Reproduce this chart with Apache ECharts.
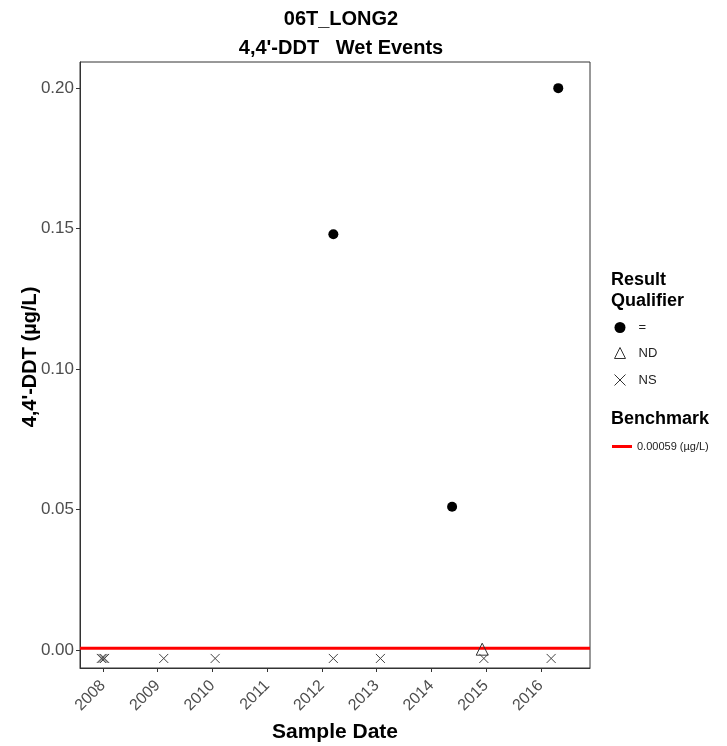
<!DOCTYPE html>
<html><head><meta charset="utf-8">
<script src="https://cdn.jsdelivr.net/npm/echarts@6/dist/echarts.min.js"></script>
<style>html,body{margin:0;padding:0;background:#fff}#c{width:727px;height:746px}</style>
</head><body><div id="c"></div>
<script>
// Data (decimal years)
const yearTicks = [2008, 2009, 2010, 2011, 2012, 2013, 2014, 2015, 2016];
const yTicks = [0, 0.05, 0.10, 0.15, 0.20];
const eqDates = [2012.21, 2014.38, 2016.32];
const eqValues = [0.148, 0.051, 0.200];
const ndDates = [2014.93];
const ndValues = [0.0003];
const nsDates = [2007.97, 2008.0, 2008.03, 2009.11, 2010.05, 2012.21, 2013.07, 2014.96, 2016.19];
const nsValues = [-0.003, -0.003, -0.003, -0.003, -0.003, -0.003, -0.003, -0.003, -0.003];
const benchmark = 0.00059;
const xRange = [2007.58, 2016.9];
const yRange = [-0.0064, 0.2093];

const zip = (a, b) => a.map((v, i) => [v, b[i]]);
const chart = echarts.init(document.getElementById('c'), null, {renderer: 'canvas'});
const gray = '#4d4d4d';
const crossPath = 'path://M0,0L10,10M10,0L0,10';
chart.setOption({
  animation: false,
  backgroundColor: '#fff',
  title: {
    text: '06T_LONG2\n4,4\'-DDT   Wet Events',
    left: 336, top: 0, textAlign: 'center',
    textStyle: {fontFamily: 'Liberation Sans', fontWeight: 'bold', fontSize: 20, color: '#000', lineHeight: 29}
  },
  grid: {left: 80, right: 137, top: 62, bottom: 78, outerBoundsMode: 'none', containLabel: false, show: true, borderColor: '#333', borderWidth: 1, backgroundColor: '#fff'},
  xAxis: {
    type: 'value', min: xRange[0], max: xRange[1],
    name: 'Sample Date', nameLocation: 'middle', nameGap: 54,
    nameTextStyle: {fontFamily: 'Liberation Sans', fontWeight: 'bold', fontSize: 21, color: '#000'},
    axisLine: {show: true, onZero: false, lineStyle: {color: '#333'}},
    axisTick: {show: true, length: 4, lineStyle: {color: '#333'}, customValues: yearTicks},
    axisLabel: {customValues: yearTicks, rotate: 45, color: gray, fontFamily: 'Liberation Sans', fontSize: 16, margin: 15, formatter: v => String(Math.round(v))},
    splitLine: {show: false}
  },
  yAxis: {
    type: 'value', min: yRange[0], max: yRange[1],
    name: '4,4\'-DDT (µg/L)', nameLocation: 'middle', nameGap: 40, nameRotate: 90, nameMoveOverlap: false,
    nameTextStyle: {fontFamily: 'Liberation Sans', fontWeight: 'bold', fontSize: 20, color: '#000', padding: [0, 0, 0, 16]},
    axisLine: {show: true, onZero: false, lineStyle: {color: '#333'}},
    axisTick: {show: true, length: 4, lineStyle: {color: '#333'}, customValues: yTicks},
    axisLabel: {customValues: yTicks, color: gray, fontFamily: 'Liberation Sans', fontSize: 17, margin: 6, formatter: v => v.toFixed(2)},
    splitLine: {show: false}
  },
  legend: [
    {
      orient: 'vertical', left: 607, top: 316, itemGap: 11, itemWidth: 11, itemHeight: 11,
      textStyle: {fontFamily: 'Liberation Sans', fontSize: 13, color: '#222', padding: [0, 0, 0, 8]},
      data: [
        {name: '=', icon: 'circle', itemStyle: {color: '#000'}},
        {name: 'ND', icon: 'triangle', itemStyle: {color: 'none', borderColor: '#333', borderWidth: 1}},
        {name: 'NS', icon: crossPath, itemStyle: {color: 'none', borderColor: '#333', borderWidth: 1}}
      ],
      selectedMode: false
    },
    {
      orient: 'vertical', left: 607, top: 436, itemWidth: 20, itemHeight: 3,
      textStyle: {fontFamily: 'Liberation Sans', fontSize: 11, color: '#222'},
      data: [{name: '0.00059 (µg/L)', icon: 'rect', itemStyle: {color: '#ff0000'}}],
      selectedMode: false
    }
  ],
  graphic: [
    {type: 'text', left: 611, top: 270, style: {text: 'Result\nQualifier', fontFamily: 'Liberation Sans', fontWeight: 'bold', fontSize: 18, lineHeight: 21, fill: '#000'}},
    {type: 'text', left: 611, top: 410, style: {text: 'Benchmark', fontFamily: 'Liberation Sans', fontWeight: 'bold', fontSize: 18, fill: '#000'}}
  ],
  series: [
    {
      name: '0.00059 (µg/L)', type: 'line', symbol: 'none', z: 2,
      lineStyle: {color: '#ff0000', width: 3},
      data: [[xRange[0], benchmark], [xRange[1], benchmark]]
    },
    {name: '=', type: 'scatter', symbol: 'circle', symbolSize: 10, itemStyle: {color: '#000', opacity: 1}, z: 3, data: zip(eqDates, eqValues)},
    {name: 'ND', type: 'scatter', symbol: 'triangle', symbolSize: 12, itemStyle: {color: 'none', borderColor: '#333', borderWidth: 1, opacity: 1}, z: 3, data: zip(ndDates, ndValues)},
    {name: 'NS', type: 'scatter', symbol: crossPath, symbolSize: 9, itemStyle: {color: 'none', borderColor: '#444', borderWidth: 1, opacity: 1}, z: 3, data: zip(nsDates, nsValues)}
  ]
});
</script></body></html>
